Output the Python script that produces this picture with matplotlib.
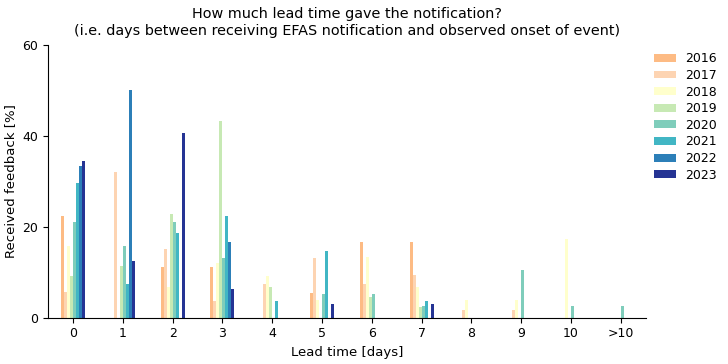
import numpy as np
import matplotlib
matplotlib.use('Agg')
import matplotlib.pyplot as plt

# lead time categories (days)
lead_labels = ['0', '1', '2', '3', '4', '5', '6', '7', '8', '9', '10', '>10']
years = ['2016', '2017', '2018', '2019', '2020', '2021', '2022', '2023']

# received feedback [%] per year, one value per lead time
v2016 = [22.3, 0, 11.1, 11.1, 0, 5.5, 16.6, 16.6, 0, 0, 0, 0]
v2017 = [5.6, 32.1, 15.2, 3.7, 7.5, 13.2, 7.5, 9.4, 1.8, 1.8, 0, 0]
v2018 = [15.9, 0, 6.7, 12.0, 9.3, 4.0, 13.3, 6.7, 3.9, 3.9, 17.4, 0]
v2019 = [9.1, 11.3, 22.8, 43.3, 6.7, 0, 4.5, 2.3, 0, 0, 0, 0]
v2020 = [21.1, 15.8, 21.1, 13.1, 0, 5.3, 5.3, 2.6, 0, 10.5, 2.6, 2.6]
v2021 = [29.6, 7.4, 18.6, 22.3, 3.7, 14.8, 0, 3.6, 0, 0, 0, 0]
v2022 = [33.4, 50.1, 0, 16.6, 0, 0, 0, 0, 0, 0, 0, 0]
v2023 = [34.4, 12.5, 40.7, 6.3, 0, 3.0, 0, 3.0, 0, 0, 0, 0]

series = [v2016, v2017, v2018, v2019, v2020, v2021, v2022, v2023]
colors = ['#fdbb84', '#fdd4b2', '#ffffcc', '#c7e9b4',
          '#7fcdbb', '#41b6c4', '#2c7fb8', '#253494']

x = np.arange(len(lead_labels))
width = 0.06

fig = plt.figure(figsize=(7.28, 3.64), dpi=100)
ax = fig.add_axes([0.066, 0.127, 0.821, 0.749])

for i, (vals, yr, c) in enumerate(zip(series, years, colors)):
    ax.bar(x + (i - 3.5) * width, vals, width, color=c, label=yr)

ax.set_xlim(-0.5, 11.5)
ax.set_ylim(0, 60)
ax.set_yticks([0, 20, 40, 60])
ax.set_xticks(x)
ax.set_xticklabels(lead_labels)
ax.tick_params(labelsize=9)
ax.spines['top'].set_visible(False)
ax.spines['right'].set_visible(False)

ax.set_xlabel('Lead time [days]', fontsize=9.5, labelpad=4)
ax.set_ylabel('Received feedback [%]', fontsize=9.5)
ax.set_title('How much lead time gave the notification?\n'
             '(i.e. days between receiving EFAS notification and observed onset of event)',
             fontsize=10.4, linespacing=1.35, pad=7)

ax.legend(loc='upper left', bbox_to_anchor=(0.995, 1.015), frameon=False,
          fontsize=9, handlelength=1.8, handleheight=0.6, handletextpad=0.7,
          labelspacing=0.29)

fig.savefig('out.png', dpi=100)
